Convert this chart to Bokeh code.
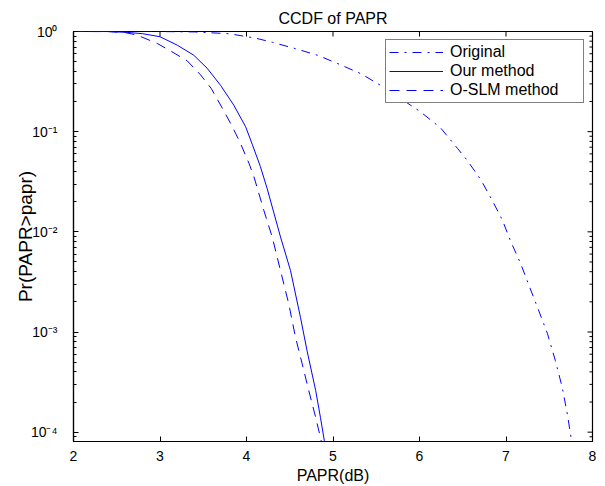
from bokeh.plotting import figure
from bokeh.models import FixedTicker, Range1d, Legend, LegendItem
from bokeh.embed import file_html
from bokeh.resources import INLINE

# ---- data ----
orig_x = [2.0, 2.5, 3.0, 3.4, 3.8, 4.1, 4.3, 4.55, 4.82, 5.05, 5.32, 5.55, 5.78, 6.01,
          6.24, 6.44, 6.55, 6.71, 6.84, 6.96, 7.05, 7.17, 7.26, 7.36, 7.48, 7.57,
          7.65, 7.71, 7.76, 7.78]
orig_y = [1.0, 1.0, 0.999, 0.99, 0.95, 0.86, 0.78, 0.68, 0.58, 0.48, 0.38, 0.29, 0.215,
          0.158, 0.11, 0.068, 0.052, 0.033, 0.0207, 0.013, 0.0082, 0.0048, 0.0030,
          0.0018, 0.00096, 0.00052, 0.00028, 0.00015, 0.00008, 0.00006]

ours_x = [2.0, 2.4, 2.62, 2.8, 3.0, 3.2, 3.39, 3.545, 3.70, 3.853, 3.99, 4.066, 4.16,
          4.239, 4.393, 4.509, 4.624, 4.70, 4.80, 4.855, 4.90, 4.92]
ours_y = [1.0, 0.999, 0.98, 0.95, 0.887, 0.73, 0.58, 0.43, 0.29, 0.184, 0.112, 0.075,
          0.045, 0.027, 0.0089, 0.0041, 0.0014, 0.00065, 0.00026, 0.00014, 0.000082,
          0.00006]

oslm_x = [2.0, 2.4, 2.6, 2.736, 2.968, 3.121, 3.314, 3.468, 3.592, 3.707, 3.823, 3.923,
          4.03, 4.084, 4.2, 4.297, 4.393, 4.489, 4.566, 4.644, 4.72, 4.80, 4.864, 4.88]
oslm_y = [1.0, 0.998, 0.975, 0.92, 0.76, 0.64, 0.51, 0.37, 0.27, 0.18, 0.118, 0.079,
          0.048, 0.036, 0.0164, 0.0089, 0.0041, 0.0019, 0.00089, 0.00048, 0.00026,
          0.00014, 0.000082, 0.00006]

series_labels = ["Original", "Our method", "O-SLM method"]
x_ticks = [2, 3, 4, 5, 6, 7, 8]
y_ticks = [1e-4, 1e-3, 1e-2, 1e-1, 1.0]
y_tick_labels = ["10\u207b\u2074", "10\u207b\u00b3", "10\u207b\u00b2", "10\u207b\u00b9", "10\u2070"]
y_minor = [m * 10.0 ** e for e in range(-5, 0) for m in range(2, 10)]

X_MIN, X_MAX = 2, 8
Y_MIN, Y_MAX = 8.07e-5, 1.0

FONT = "Liberation Sans"
BLUE = "#0000ff"

p = figure(width=600, height=486, y_axis_type="log",
           x_range=Range1d(X_MIN, X_MAX), y_range=Range1d(Y_MIN, Y_MAX),
           output_backend="svg", toolbar_location=None,
           min_border_left=73, min_border_right=8, min_border_top=31, min_border_bottom=45)

p.title.text = "CCDF of PAPR"
p.title.align = "center"
p.title.text_font = FONT
p.title.text_font_size = "16px"
p.title.text_font_style = "normal"
p.title.text_color = "black"
p.title.standoff = 10

p.grid.visible = False
p.outline_line_color = "black"
p.outline_line_width = 1.2
p.outline_line_alpha = 1.0
p.background_fill_color = "white"
p.border_fill_color = "white"

r1 = p.line(orig_x, orig_y, line_color=BLUE, line_width=1, line_dash="9 6 2 6")
r2 = p.line(ours_x, ours_y, line_color=BLUE, line_width=1)
r3 = p.line(oslm_x, oslm_y, line_color=BLUE, line_width=1, line_dash="10 7")

# mirrored ticks on the top and right edges of the box (clipped to the frame)
p.scatter(x=x_ticks, y=[Y_MAX] * len(x_ticks), marker="dash", angle=1.5708,
          size=10, line_color="black", line_width=1)
p.scatter(x=[X_MAX] * len(y_ticks), y=y_ticks, marker="dash",
          size=10, line_color="black", line_width=1)
p.scatter(x=[X_MAX] * len(y_minor), y=y_minor, marker="dash",
          size=6, line_color="black", line_width=1)

# axes
p.xaxis.ticker = FixedTicker(ticks=x_ticks)
p.yaxis.ticker = FixedTicker(ticks=y_ticks, minor_ticks=y_minor)
p.yaxis.major_label_overrides = {t: l for t, l in zip(y_ticks, y_tick_labels)}
p.xaxis.axis_label = "PAPR(dB)"
p.yaxis.axis_label = "Pr(PAPR>papr)"

for ax in [p.xaxis[0], p.yaxis[0]]:
    ax.axis_line_color = "black"
    ax.axis_line_width = 1.2
    ax.major_tick_in = 5
    ax.major_tick_out = 0
    ax.minor_tick_in = 3
    ax.minor_tick_out = 0
    ax.major_tick_line_color = "black"
    ax.minor_tick_line_color = "black"
    ax.major_label_text_font = FONT
    ax.major_label_text_font_size = "14px"
    ax.major_label_text_color = "black"
    ax.axis_label_text_font = FONT
    ax.axis_label_text_font_style = "normal"
    ax.axis_label_text_color = "black"
p.xaxis.minor_tick_line_color = None
p.xaxis.major_label_standoff = 9
p.xaxis.axis_label_standoff = 3
p.xaxis.axis_label_text_font_size = "16px"
p.yaxis.major_label_standoff = 16
p.yaxis.axis_label_standoff = -8
p.yaxis.axis_label_text_font_size = "19px"

legend = Legend(items=[LegendItem(label=series_labels[0], renderers=[r1]),
                       LegendItem(label=series_labels[1], renderers=[r2]),
                       LegendItem(label=series_labels[2], renderers=[r3])],
                location="top_right", margin=8, padding=3, spacing=1,
                label_height=18, glyph_height=18, glyph_width=54, label_standoff=7,
                label_width=130, border_line_color="black", border_line_width=1.2,
                background_fill_color="white", background_fill_alpha=1.0,
                label_text_font=FONT, label_text_font_size="16px",
                label_text_color="black")
p.add_layout(legend)

open("out.html", "w").write(file_html(p, INLINE))
